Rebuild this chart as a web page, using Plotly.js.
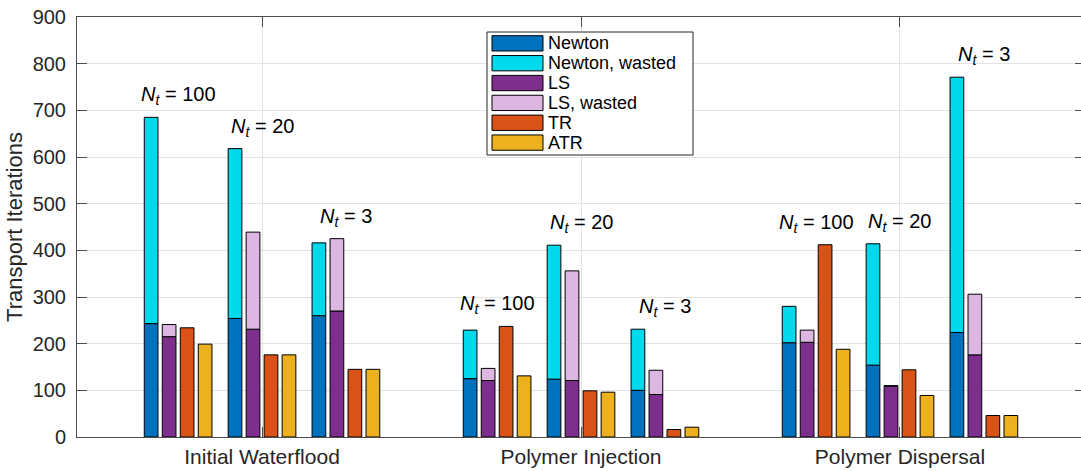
<!DOCTYPE html>
<html>
<head>
<meta charset="utf-8">
<script src="https://cdn.plot.ly/plotly-3.0.1.min.js"></script>
<style>
html,body{margin:0;padding:0;overflow:hidden;background:#fff;}
#chart{width:1090px;height:471px;}
</style>
</head>
<body>
<div id="chart"></div>
<script>
// ---- data ----
var groups = ['Initial Waterflood', 'Polymer Injection', 'Polymer Dispersal'];
var subLabels = ['100', '20', '3'];
// order: [IW Nt=100, IW Nt=20, IW Nt=3, PI 100, PI 20, PI 3, PD 100, PD 20, PD 3]
var newton       = [243, 254, 260, 125, 124, 100, 202, 154, 224];
var newtonWasted = [442, 364, 156, 104, 287, 131,  78, 260, 547];
var ls           = [215, 231, 270, 121, 121,  91, 203, 109, 176];
var lsWasted     = [ 26, 208, 155,  26, 235,  52,  26,   1, 130];
var tr           = [234, 176, 145, 237,  99,  16, 412, 144,  46];
var atr          = [199, 176, 145, 131,  96,  21, 188,  89,  46];
var seriesNames  = ['Newton', 'Newton, wasted', 'LS', 'LS, wasted', 'TR', 'ATR'];

// ---- styling / layout ----
var colors = ['#0072BD', '#00D8EC', '#7E2F8E', '#DDB6E2', '#D95319', '#EDB120'];
var W = 1090, H = 471;
var M = {l: 77, r: 5, t: 17, b: 34};
var subSpacing = 0.263, pitch = 0.0564, barW = 0.043;

function xpos(k, b) {
  var g = Math.floor(k / 3), s = k % 3;
  return (g + 1) + (s - 1) * subSpacing + (b - 1.5) * pitch;
}
var idx = newton.map(function (_, i) { return i; });
function xs(b) { return idx.map(function (k) { return xpos(k, b); }); }

var line = {color: '#000000', width: 1};
function barTrace(name, x, y, base, color) {
  var t = {type: 'bar', name: name, x: x, y: y, width: barW,
           marker: {color: color, line: line}, showlegend: false, hoverinfo: 'name+y'};
  if (base) t.base = base;
  return t;
}
var traces = [
  barTrace(seriesNames[0], xs(0), newton, null, colors[0]),
  barTrace(seriesNames[1], xs(0), newtonWasted, newton, colors[1]),
  barTrace(seriesNames[2], xs(1), ls, null, colors[2]),
  barTrace(seriesNames[3], xs(1), lsWasted, ls, colors[3]),
  barTrace(seriesNames[4], xs(2), tr, null, colors[4]),
  barTrace(seriesNames[5], xs(3), atr, null, colors[5])
];

// N_t labels above each subgroup
var annotations = idx.map(function (k) {
  var top = Math.max(newton[k] + newtonWasted[k], ls[k] + lsWasted[k], tr[k], atr[k]);
  return {x: xpos(k, 1.5), y: top, xref: 'x', yref: 'y', yanchor: 'bottom', xanchor: 'center',
          yshift: 7, showarrow: false,
          text: '<i>N<sub>t</sub></i> = ' + subLabels[k % 3],
          font: {family: 'Liberation Sans, Arial, sans-serif', size: 20, color: '#000'}};
});

// custom legend (MATLAB-like wide swatches)
var pw = W - M.l - M.r, ph = H - M.t - M.b;
function px2x(p) { return (p - M.l) / pw; }
function px2y(p) { return (H - M.b - p) / ph; }
var shapes = [];
shapes.push({type: 'rect', xref: 'paper', yref: 'paper', x0: px2x(487), x1: px2x(693),
             y0: px2y(155), y1: px2y(32), fillcolor: '#ffffff', line: {color: '#262626', width: 1}, layer: 'above'});
seriesNames.forEach(function (n, i) {
  var top = 35.7 + i * 19.85;
  shapes.push({type: 'rect', xref: 'paper', yref: 'paper', x0: px2x(492), x1: px2x(543),
               y0: px2y(top + 15.3), y1: px2y(top), fillcolor: colors[i],
               line: {color: '#000', width: 1}, layer: 'above'});
  annotations.push({xref: 'paper', yref: 'paper', x: px2x(546), y: px2y(top + 7.7),
                    xanchor: 'left', yanchor: 'middle', showarrow: false, text: n,
                    font: {family: 'Liberation Sans, Arial, sans-serif', size: 18, color: '#000'}});
});

var axisCommon = {
  showline: true, linecolor: '#4d4d4d', linewidth: 1, mirror: 'ticks',
  ticks: 'inside', ticklen: 10, tickcolor: '#4d4d4d', tickwidth: 1,
  showgrid: true, gridcolor: '#e3e3e3', gridwidth: 1, zeroline: false,
  tickfont: {family: 'Liberation Sans, Arial, sans-serif', size: 20, color: '#262626'}
};

var layout = {
  width: W, height: H, margin: M,
  paper_bgcolor: '#ffffff', plot_bgcolor: '#ffffff',
  barmode: 'overlay', showlegend: false,
  xaxis: Object.assign({}, axisCommon, {
    range: [0.42, 3.58], tickmode: 'array', tickvals: [1, 2, 3], ticktext: groups,
    tickfont: {family: 'Liberation Sans, Arial, sans-serif', size: 21, color: '#262626'},
    ticklabelstandoff: 1
  }),
  yaxis: Object.assign({}, axisCommon, {
    range: [0, 900], dtick: 100, tick0: 0, ticklabelstandoff: 6,
    title: {text: 'Transport Iterations', standoff: 3,
            font: {family: 'Liberation Sans, Arial, sans-serif', size: 22, color: '#262626'}}
  }),
  annotations: annotations,
  shapes: shapes
};

Plotly.newPlot('chart', traces, layout, {displayModeBar: false, staticPlot: true});
</script>
</body>
</html>
